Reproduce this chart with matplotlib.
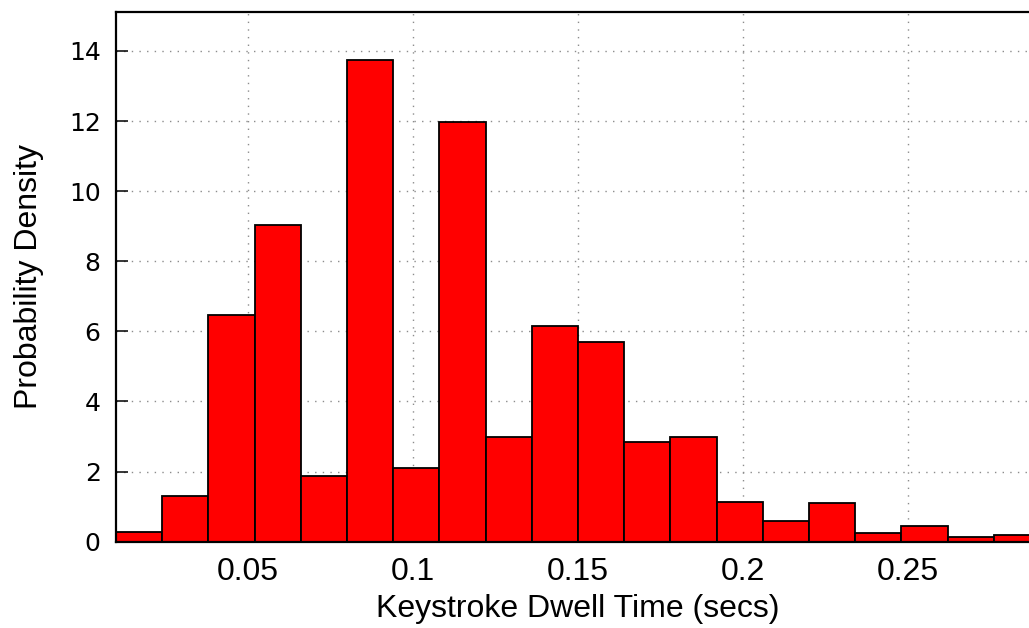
import matplotlib
matplotlib.use("Agg")
import matplotlib.pyplot as plt

# histogram bins (left edges, secs) and normalised densities
bin_left = [0.010, 0.024, 0.038, 0.052, 0.066, 0.080, 0.094, 0.108, 0.122, 0.136,
            0.150, 0.164, 0.178, 0.192, 0.206, 0.220, 0.234, 0.248, 0.262, 0.276]
bin_width = 0.014
density = [0.27, 1.30, 6.46, 9.04, 1.88, 13.74, 2.11, 11.97, 3.00, 6.15,
           5.70, 2.84, 3.00, 1.13, 0.59, 1.11, 0.25, 0.46, 0.14, 0.19]

x_ticks = [0.05, 0.1, 0.15, 0.2, 0.25]
x_ticklabels = ["0.05", "0.1", "0.15", "0.2", "0.25"]
y_ticks = [0, 2, 4, 6, 8, 10, 12, 14]

fig = plt.figure(figsize=(10.29, 6.28), dpi=100)
# plot area runs a little past the right edge of the canvas
ax = fig.add_axes([116 / 1029, (628 - 541.7) / 628, 924 / 1029, 530 / 628])

ax.bar(bin_left, density, width=bin_width, align="edge",
       color="#ff0000", edgecolor="black", linewidth=1.3, zorder=2)

ax.set_xlim(0.01, 0.29)
ax.set_ylim(0, 15.12)

ax.set_xticks(x_ticks)
ax.set_xticklabels(x_ticklabels, fontfamily="Liberation Sans", fontsize=23)
ax.set_yticks(y_ticks)
ax.set_yticklabels([str(v) for v in y_ticks], fontfamily="DejaVu Sans", fontsize=18)

ax.tick_params(axis="x", length=0, pad=11)
ax.tick_params(axis="y", direction="in", length=8.6, width=1.1, pad=11)

ax.grid(True, color="#8c8c8c", linestyle=(0, (1, 4.5)), linewidth=1.0, zorder=0)
ax.set_axisbelow(True)

for side in ["left", "top", "bottom"]:
    ax.spines[side].set_linewidth(1.6)
ax.spines["right"].set_visible(False)

ax.set_xlabel("Keystroke Dwell Time (secs)", fontfamily="Liberation Sans",
              fontsize=23, labelpad=5)
ax.set_ylabel("Probability Density", fontfamily="Liberation Sans",
              fontsize=23, labelpad=18)

plt.savefig("out.png", dpi=100)
